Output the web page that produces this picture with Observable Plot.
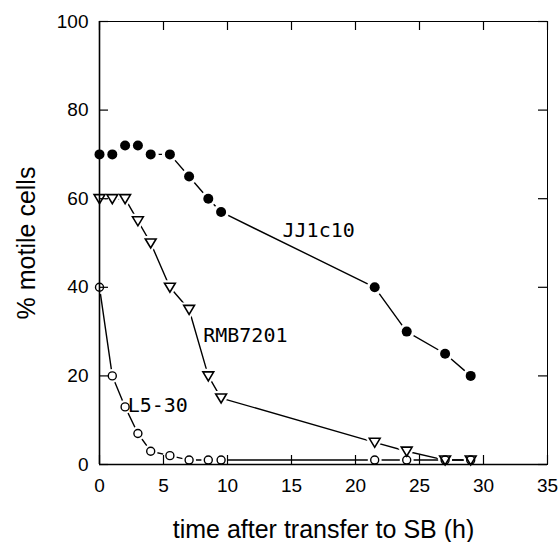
<!DOCTYPE html>
<html>
<head>
<meta charset="utf-8">
<script src="https://cdn.jsdelivr.net/npm/d3@7"></script>
<script src="https://cdn.jsdelivr.net/npm/@observablehq/plot@0.6"></script>
<style>
  html, body { margin: 0; padding: 0; background: white; }
</style>
</head>
<body>
<div id="chart"></div>
<script>
// ---- data ----
const jjX  = [0, 1, 2, 3, 4, 5.5, 7, 8.5, 9.5, 21.5, 24, 27, 29];
const jjY  = [70, 70, 72, 72, 70, 70, 65, 60, 57, 40, 30, 25, 20];
const rmbX = [0, 1, 2, 3, 4, 5.5, 7, 8.5, 9.5, 21.5, 24, 27, 29];
const rmbY = [60, 60, 60, 55, 50, 40, 35, 20, 15, 5, 3, 1, 1];
const l5X  = [0, 1, 2, 3, 4, 5.5, 7, 8.5, 9.5, 21.5, 24, 27, 29];
const l5Y  = [40, 20, 13, 7, 3, 2, 1, 1, 1, 1, 1, 1, 1];

const seriesNames = ["JJ1c10", "RMB7201", "L5-30"];
const xTicks = [0, 5, 10, 15, 20, 25, 30, 35];
const yTicks = [0, 20, 40, 60, 80, 100];
const xTitle = "time after transfer to SB (h)";
const yTitle = "% motile cells";

// label positions (annotation anchors, data units)
const labelX = [14.3, 8.1, 2.2];
const labelY = [52.8, 29.1, 13.3];

const toRows = (xs, ys) => xs.map((x, i) => ({x, y: ys[i]}));
const jj = toRows(jjX, jjY);
const rmb = toRows(rmbX, rmbY);
const l5 = toRows(l5X, l5Y);
const labels = seriesNames.map((name, i) => ({name, x: labelX[i], y: labelY[i]}));

const xMin = 0, xMax = 35, yMin = 0, yMax = 100;

// down-pointing triangle symbol
const triDown = {
  draw(ctx, size) {
    const r = Math.sqrt(size / Math.PI);
    const w = r * 1.2, h = r;
    ctx.moveTo(-w, -h * 0.9);
    ctx.lineTo(w, -h * 0.9);
    ctx.lineTo(0, h * 1.1);
    ctx.closePath();
  }
};

const lineStyle = {x: "x", y: "y", stroke: "black", strokeWidth: 1.4};
const halo = (data, symbol, r) => Plot.dot(data, {x: "x", y: "y", r, symbol, fill: "white", stroke: "white", strokeWidth: 6});

const chart = Plot.plot({
  width: 559,
  height: 542,
  marginLeft: 99,
  marginRight: 12,
  marginTop: 21,
  marginBottom: 78,
  style: {fontFamily: "'Liberation Sans', Arial, sans-serif", fontSize: "19px", background: "white", color: "black"},
  x: {domain: [xMin, xMax]},
  y: {domain: [yMin, yMax]},
  marks: [
    Plot.line(l5, lineStyle),
    Plot.line(rmb, lineStyle),
    Plot.line(jj, lineStyle),
    halo(l5, "circle", 4),
    halo(rmb, triDown, 4.5),
    halo(jj, "circle", 5),
    Plot.frame({stroke: "black", strokeWidth: 1}),
    // main axis lines (left, bottom) slightly heavier
    Plot.ruleX([xMin], {x: d => d, stroke: "black", strokeWidth: 1.6}),
    Plot.ruleY([yMin], {y: d => d, stroke: "black", strokeWidth: 1.6}),
    // inward ticks on all four sides
    Plot.ruleX(xTicks, {x: d => d, y1: yMin, y2: yMin, insetTop: -9, stroke: "black", strokeWidth: 1.2}),
    Plot.ruleX(xTicks, {x: d => d, y1: yMax, y2: yMax, insetBottom: -9, stroke: "black", strokeWidth: 1.2}),
    Plot.ruleY(yTicks, {y: d => d, x1: xMin, x2: xMin, insetRight: -9, stroke: "black", strokeWidth: 1.2}),
    Plot.ruleY(yTicks, {y: d => d, x1: xMax, x2: xMax, insetLeft: -9, stroke: "black", strokeWidth: 1.2}),
    Plot.axisX({ticks: xTicks, tickSize: 0, tickPadding: 14, fontSize: 19, label: null}),
    Plot.axisY({ticks: yTicks, tickSize: 0, tickPadding: 11, fontSize: 19, label: null}),
    Plot.dot(l5, {x: "x", y: "y", r: 4, symbol: "circle", fill: "none", stroke: "black", strokeWidth: 1.4}),
    Plot.dot(rmb, {x: "x", y: "y", r: 4.5, symbol: triDown, fill: "none", stroke: "black", strokeWidth: 1.6}),
    Plot.dot(jj, {x: "x", y: "y", r: 5, fill: "black", stroke: "none"}),
    Plot.text(labels, {x: "x", y: "y", text: "name", textAnchor: "start", fontFamily: "'DejaVu Sans Mono', monospace", fontSize: 20, fill: "black"}),
    Plot.text([xTitle], {frameAnchor: "bottom", dy: 73, lineAnchor: "bottom", textAnchor: "middle", fontSize: 25, fill: "black"}),
    Plot.text([yTitle], {frameAnchor: "left", dx: -82, rotate: -90, lineAnchor: "top", textAnchor: "middle", fontSize: 25, fill: "black"})
  ]
});
document.getElementById("chart").appendChild(chart);
</script>
</body>
</html>
